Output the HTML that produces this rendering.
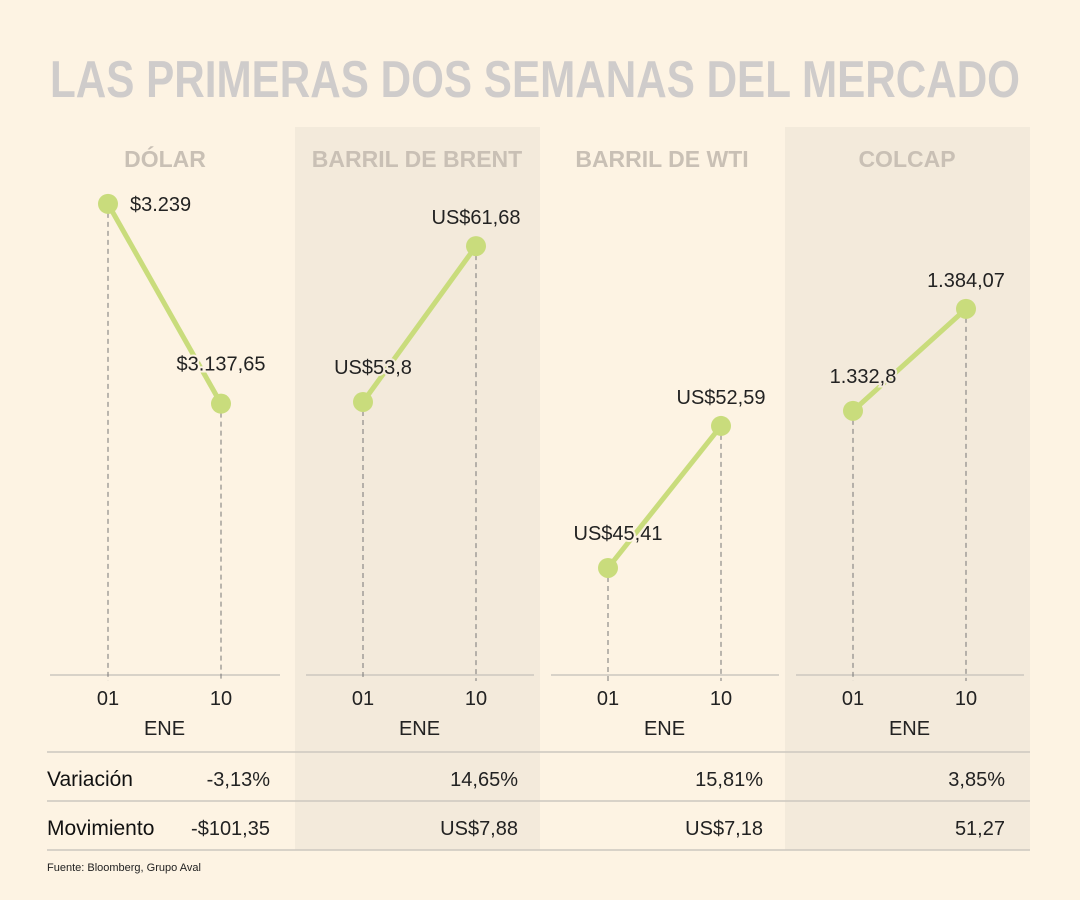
<!DOCTYPE html>
<html><head><meta charset="utf-8"><style>
html,body{margin:0;padding:0;background:#fdf3e3;}
svg{display:block;font-family:"Liberation Sans",sans-serif;}
</style></head><body>
<svg id="chart" width="1080" height="900" viewBox="0 0 1080 900">
<rect x="0" y="0" width="1080" height="900" fill="#fdf3e3"/>
<rect x="295" y="127" width="245" height="723" fill="#f3eadb"/>
<rect x="785" y="127" width="245" height="723" fill="#f3eadb"/>
<text x="50" y="97" font-size="52" font-weight="bold" fill="#cfcccb" textLength="970" lengthAdjust="spacingAndGlyphs">LAS PRIMERAS DOS SEMANAS DEL MERCADO</text>
<g id="panels"></g>
<g id="table"></g>
<text x="47" y="871" font-size="11" fill="#222">Fuente: Bloomberg, Grupo Aval</text>
</svg>
<script>
const panelNames = ["DÓLAR","BARRIL DE BRENT","BARRIL DE WTI","COLCAP"];
const startValues = [3239, 53.8, 45.41, 1332.8];
const endValues = [3137.65, 61.68, 52.59, 1384.07];
const startLabels = ["$3.239","US$53,8","US$45,41","1.332,8"];
const endLabels = ["$3.137,65","US$61,68","US$52,59","1.384,07"];
const domainMin = [3000, 40, 40, 1200];
const domainMax = [3278, 67.7, 67.7, 1475.5];
const xCategories = ["01","10"];
const variacion = ["-3,13%","14,65%","15,81%","3,85%"];
const movimiento = ["-$101,35","US$7,88","US$7,18","51,27"];

const NS="http://www.w3.org/2000/svg";
const panelX=[50,295,540,785], panelW=245;
const baseY=675, topY=127;
function mk(tag,attrs,parent,text){const e=document.createElementNS(NS,tag);for(const k in attrs)e.setAttribute(k,attrs[k]);if(text!==undefined)e.textContent=text;parent.appendChild(e);return e;}
function yScale(i,v){return baseY-(v-domainMin[i])/(domainMax[i]-domainMin[i])*(baseY-topY);}
function xScale(i,j){return panelX[i]+(i===0?58:68)+j*113;}
const P=document.getElementById('panels');
for(let i=0;i<4;i++){
  const g=mk('g',{},P);
  
  
  const cx=panelX[i]+(i===0?115:122);
  const h=mk('text',{x:cx,y:167,'font-size':23,'font-weight':'bold',fill:'#c9c0b5','text-anchor':'middle'},g,panelNames[i]);
  
  
  const ax0=i===0?50:panelX[i]+11, ax1=i===0?280:panelX[i]+239;
  const ax=mk('line',{x1:ax0,x2:ax1,y1:baseY,y2:baseY,stroke:'#ccc7c0','stroke-width':1.5},g);
  
  
  const vals=[startValues[i],endValues[i]];
  const pts=vals.map((v,j)=>[xScale(i,j),yScale(i,v)]);
  for(let j=0;j<2;j++){
    const d=mk('line',{x1:pts[j][0],x2:pts[j][0],y1:pts[j][1],y2:baseY+6,stroke:'#777','stroke-width':1,'stroke-dasharray':'5,4'},g);
    
    
    const t=mk('text',{x:pts[j][0],y:705,'font-size':20,fill:'#222','text-anchor':'middle'},g,xCategories[j]);
    
    
  }
  const e=mk('text',{x:(pts[0][0]+pts[1][0])/2,y:735,'font-size':20,fill:'#222','text-anchor':'middle'},g,'ENE');
  
  
  const ln=mk('line',{x1:pts[0][0],y1:pts[0][1],x2:pts[1][0],y2:pts[1][1],stroke:'#c9dc7c','stroke-width':5},g);
  
  
  const labs=[startLabels[i],endLabels[i]];
  for(let j=0;j<2;j++){
    const c=mk('circle',{cx:pts[j][0],cy:pts[j][1],r:10,fill:'#c9dc7c'},g);
    
    
    let lx,ly,anchor;
    if(i===0&&j===0){lx=pts[j][0]+22;ly=pts[j][1]+7;anchor='start';}
    else if(j===0){lx=pts[j][0]+(i===0?0:10);ly=pts[j][1]-28;anchor='middle';}
    else {lx=pts[j][0];ly=pts[j][1]-22;anchor='middle';}
    if(i===0&&j===1){ly=pts[j][1]-33;}
    const lt=mk('text',{x:lx,y:ly,'font-size':20,fill:'#222','text-anchor':anchor,stroke:i%2?'#f3eadb':'#fdf3e3','stroke-width':4,'paint-order':'stroke'},g,labs[j]);
    
    
  }
}
const T=document.getElementById('table');
[752,801,850].forEach(y=>{const l=mk('line',{x1:47,x2:1030,y1:y,y2:y,stroke:'#ccc7c0','stroke-width':1.5},T);

});
const r1=mk('text',{x:47,y:786,'font-size':21,fill:'#111'},T,'Variación');


const r2=mk('text',{x:47,y:835,'font-size':21,fill:'#111'},T,'Movimiento');


const colR=[270,518,763,1005];
for(let i=0;i<4;i++){
  const a=mk('text',{x:colR[i],y:786,'font-size':20,fill:'#222','text-anchor':'end'},T,variacion[i]);
  
  
  const b=mk('text',{x:colR[i],y:835,'font-size':20,fill:'#222','text-anchor':'end'},T,movimiento[i]);
  
  
}
</script>
</body></html>
